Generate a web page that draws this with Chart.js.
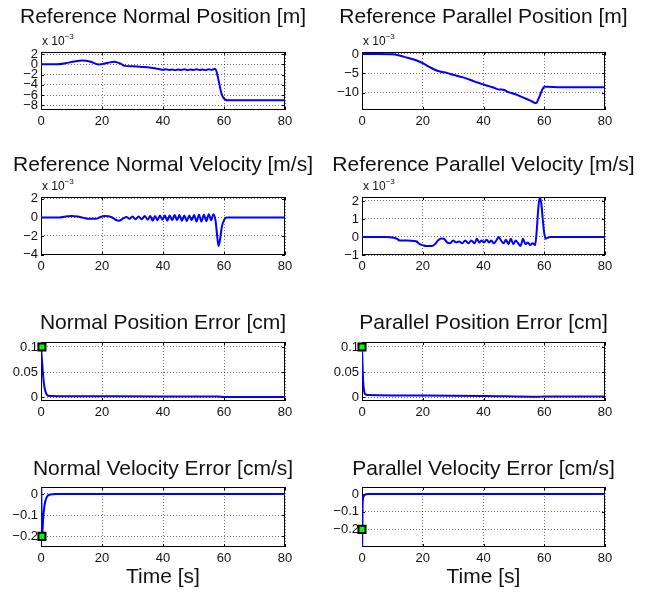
<!DOCTYPE html>
<html>
<head>
<meta charset="utf-8">
<script src="https://cdn.jsdelivr.net/npm/chart.js"></script>
<style>
  body { margin: 0; background: #fff; }
  #fig { position: relative; width: 658px; height: 593px; }
  #fig canvas { position: absolute; }
</style>
</head>
<body>
<div id="fig"></div>
<script>
// values (positions/velocities of the reference are x 1e-3)
const tNormPos = [0, 5, 8, 11, 13.5, 16, 19, 22, 24, 26, 27.5, 30, 33, 36, 38, 39, 40, 41, 42, 43, 44, 45, 46, 47, 48, 49, 50, 51, 52, 53, 54, 55, 56, 57, 57.5, 58, 58.5, 59, 59.5, 60, 60.5, 61, 70, 80];
const normPos = [0, 0, 0.2, 0.55, 0.72, 0.55, -0.05, 0.3, 0.5, 0.15, -0.3, -0.4, -0.5, -0.65, -0.85, -0.95, -1.05, -0.95, -1.1, -1.0, -1.15, -1.0, -1.1, -0.95, -1.15, -1.0, -1.1, -0.95, -1.1, -1.0, -1.15, -0.95, -1.1, -0.85, -1.3, -2.5, -3.9, -5.3, -6.2, -6.7, -6.9, -7.0, -7.0, -7.0];

const tParPos = [0, 5, 10, 12, 15, 18, 20, 22, 24, 25, 26, 28, 30, 33, 36, 38, 40, 42, 44, 45, 46, 47, 48, 50, 52, 54, 56, 57, 57.5, 58, 58.5, 59, 59.5, 60, 61, 65, 80];
const parPos = [0, 0, -0.1, -0.35, -1.0, -1.7, -2.4, -3.3, -4.1, -4.4, -4.6, -4.9, -5.4, -6.0, -6.8, -7.4, -7.9, -8.4, -8.9, -9.2, -9.2, -9.4, -9.8, -10.3, -10.9, -11.6, -12.3, -12.7, -12.6, -11.8, -10.9, -9.9, -9.0, -8.5, -8.5, -8.6, -8.6];

const tNormVel = [0, 6, 8, 10, 12, 14, 16, 18, 19.5, 21, 23, 24.5, 25.5, 27, 28, 29, 30, 31, 32, 33, 34, 35, 35.8, 36.6, 37.4, 38.2, 39, 39.8, 40.6, 41.4, 42.2, 43, 43.8, 44.6, 45.4, 46.2, 47, 47.8, 48.6, 49.4, 50.2, 51, 51.8, 52.6, 53.4, 54.2, 55, 55.8, 56.5, 57.2, 57.7, 58.2, 58.7, 59.3, 60, 60.8, 62, 80];
const normVel = [0, 0, 0.1, 0.15, 0.1, -0.05, -0.15, -0.15, 0.05, 0.15, 0.05, -0.25, -0.35, -0.1, 0.05, -0.15, 0.1, -0.2, 0.1, -0.2, 0.15, -0.25, 0.15, -0.35, 0.15, -0.3, 0.2, -0.25, 0.2, -0.35, 0.2, -0.3, 0.25, -0.3, 0.25, -0.35, 0.2, -0.4, 0.2, -0.3, 0.25, -0.45, 0.3, -0.45, 0.3, -0.4, 0.35, -0.3, 0.35, -0.3, -1.8, -3.1, -2.4, -1.0, -0.3, 0, 0, 0];

const tParVel = [0, 8, 10, 11.5, 12.5, 15, 17, 18, 19, 20, 21, 23, 24, 25, 26, 27, 28, 29, 30, 31, 32, 33, 34, 35, 36, 37, 37.8, 38.6, 39.4, 40.2, 41, 41.8, 42.6, 43.4, 44.2, 45, 45.8, 46.6, 47.4, 48.2, 49, 49.8, 50.6, 51.4, 52.2, 53, 53.8, 54.6, 55.4, 56.2, 57, 57.5, 58, 58.5, 59, 59.5, 60, 60.5, 61, 62, 80];
const parVel = [0, 0, -0.03, -0.1, -0.2, -0.2, -0.22, -0.25, -0.4, -0.45, -0.5, -0.5, -0.4, -0.2, -0.08, -0.1, -0.3, -0.35, -0.2, -0.3, -0.25, -0.35, -0.2, -0.35, -0.2, -0.35, -0.1, -0.3, -0.2, -0.3, -0.15, -0.3, -0.2, -0.35, -0.2, 0.0, -0.2, -0.35, -0.15, -0.4, -0.1, -0.4, -0.2, -0.35, -0.5, -0.1, -0.4, -0.3, -0.45, -0.35, -0.45, 0.3, 1.5, 2.2, 1.9, 1.0, 0.2, -0.1, -0.05, 0, 0];

const tNormPosErr = [0, 0.3, 0.6, 1, 1.5, 2, 3, 10, 40, 58, 60, 80];
const normPosErr = [0.1, 0.075, 0.05, 0.025, 0.01, 0.004, 0.002, 0.0015, 0.001, 0.001, 0.0, 0.0];

const tParPosErr = [0, 0.2, 0.4, 0.7, 1, 2, 20, 40, 58, 60, 80];
const parPosErr = [0.1, 0.06, 0.03, 0.012, 0.006, 0.004, 0.003, 0.002, 0.0005, 0.001, 0.001];

const tNormVelErr = [0, 0.35, 0.7, 1.0, 1.4, 2, 3, 5, 80];
const normVelErr = [0.1, -0.2, -0.12, -0.07, -0.035, -0.012, -0.003, 0, 0];

const tParVelErr = [0, 0.2, 0.5, 1, 2, 80];
const parVelErr = [-0.4, -0.06, -0.015, -0.003, 0, 0];

// initial-value markers [t, value]
const normPosErrMark = [0.3, 0.1];
const parPosErrMark = [0, 0.1];
const normVelErrMark = [0.3, -0.2];
const parVelErrMark = [0, -0.2];

// tick labels
const xTicks = [0, 20, 40, 60, 80];
const normPosTicks = [-8, -6, -4, -2, 0, 2];
const parPosTicks = [-10, -5, 0];
const normVelTicks = [-4, -2, 0, 2];
const parVelTicks = [-1, 0, 1, 2];
const posErrTicks = [0, 0.05, 0.1];
const velErrTicks = [-0.2, -0.1, 0];

const FONT = '"Liberation Sans", Arial, Helvetica, sans-serif';

// subplot grid (pixels on the page)
const cols = [
  { x: 0, w: 322, left: 41, right: 285 },
  { x: 322, w: 336, left: 362, right: 605 }
];
const rows = [
  { y: 0, h: 145, top: 52, bottom: 110, titleBase: 23 },
  { y: 145, h: 145, top: 197, bottom: 255, titleBase: 171 },
  { y: 290, h: 150, top: 342, bottom: 401, titleBase: 329 },
  { y: 440, h: 153, top: 487, bottom: 547, titleBase: 475 }
];

const panels = [
  { row: 0, col: 0, title: 'Reference Normal Position [m]', t: tNormPos, v: normPos, yTicks: normPosTicks, yMin: -8.9, yMax: 2.4, expo: true },
  { row: 0, col: 1, title: 'Reference Parallel Position [m]', t: tParPos, v: parPos, yTicks: parPosTicks, yMin: -14.5, yMax: 0.5, expo: true },
  { row: 1, col: 0, title: 'Reference Normal Velocity [m/s]', t: tNormVel, v: normVel, yTicks: normVelTicks, yMin: -4.05, yMax: 2.2, expo: true },
  { row: 1, col: 1, title: 'Reference Parallel Velocity [m/s]', t: tParVel, v: parVel, yTicks: parVelTicks, yMin: -1, yMax: 2.22, expo: true },
  { row: 2, col: 0, title: 'Normal Position Error [cm]', t: tNormPosErr, v: normPosErr, yTicks: posErrTicks, yMin: -0.008, yMax: 0.11, mark: normPosErrMark },
  { row: 2, col: 1, title: 'Parallel Position Error [cm]', t: tParPosErr, v: parPosErr, yTicks: posErrTicks, yMin: -0.008, yMax: 0.11, mark: parPosErrMark },
  { row: 3, col: 0, title: 'Normal Velocity Error [cm/s]', t: tNormVelErr, v: normVelErr, yTicks: velErrTicks, yMin: -0.25, yMax: 0.033, mark: normVelErrMark, xlabel: 'Time [s]' },
  { row: 3, col: 1, title: 'Parallel Velocity Error [cm/s]', t: tParVelErr, v: parVelErr, yTicks: velErrTicks, yMin: -0.3, yMax: 0.04, mark: parVelErrMark, xlabel: 'Time [s]' }
];

const fmt = v => String(v).replace('-', '\u2212');

// matlab style box, inner ticks, title, exponent and x label
const frame = {
  id: 'frame',
  beforeDatasetsDraw(chart, args, o) {
    const { ctx, chartArea: a, scales } = chart;
    ctx.save();
    ctx.strokeStyle = '#000';
    ctx.lineWidth = 1;
    ctx.beginPath();
    scales.x.ticks.forEach(tk => {
      const px = Math.round(scales.x.getPixelForValue(tk.value)) + 0.5;
      ctx.moveTo(px, a.bottom); ctx.lineTo(px, a.bottom - 3);
      ctx.moveTo(px, a.top); ctx.lineTo(px, a.top + 3);
    });
    scales.y.ticks.forEach(tk => {
      const py = Math.round(scales.y.getPixelForValue(tk.value)) + 0.5;
      ctx.moveTo(a.left, py); ctx.lineTo(a.left + 3, py);
      ctx.moveTo(a.right, py); ctx.lineTo(a.right - 3, py);
    });
    ctx.stroke();
    ctx.strokeRect(a.left + 0.5, a.top + 0.5, a.width - 1, a.height - 1);
    ctx.restore();
  },
  afterDraw(chart, args, o) {
    const { ctx, chartArea: a } = chart;
    const cx = (a.left + a.right) / 2;
    ctx.save();
    ctx.fillStyle = '#111';
    ctx.textAlign = 'center';
    ctx.textBaseline = 'alphabetic';
    ctx.font = '21px ' + FONT;
    ctx.fillText(o.title, cx, o.titleY);
    if (o.xlabel) {
      ctx.fillText(o.xlabel, cx, o.xlabelY);
    }
    if (o.expo) {
      ctx.textAlign = 'left';
      ctx.font = '12px ' + FONT;
      const base = 'x 10';
      ctx.fillText(base, a.left + 1, a.top - 7);
      const w = ctx.measureText(base).width;
      ctx.font = '8px ' + FONT;
      ctx.fillText('\u22123', a.left + 1 + w, a.top - 13);
    }
    ctx.restore();
  }
};

const fig = document.getElementById('fig');
const X_AXIS_H = 25;

panels.forEach(p => {
  const c = cols[p.col], r = rows[p.row];
  const cv = document.createElement('canvas');
  cv.width = c.w;
  cv.height = r.h;
  cv.style.width = c.w + 'px';
  cv.style.height = r.h + 'px';
  cv.style.left = c.x + 'px';
  cv.style.top = r.y + 'px';
  fig.appendChild(cv);

  const datasets = [];
  if (p.mark) {
    datasets.push({
      data: [{ x: p.mark[0], y: p.mark[1] }],
      showLine: false,
      pointStyle: 'rect',
      pointRadius: 5,
      pointBackgroundColor: '#00ff00',
      pointBorderColor: '#000',
      pointBorderWidth: 2,
      clip: false
    });
  }
  datasets.push({
    data: p.t.map((x, i) => ({ x: x, y: p.v[i] })),
    borderColor: '#0000ff',
    borderWidth: 2,
    pointRadius: 0,
    fill: false,
    cubicInterpolationMode: 'monotone'
  });

  const gridOpts = { color: 'rgba(0,0,0,0.55)', lineWidth: 1, drawTicks: false };
  const tickFont = { family: FONT, size: 13 };

  new Chart(cv, {
    type: 'line',
    data: { datasets },
    options: {
      responsive: false,
      animation: false,
      events: [],
      layout: {
        padding: {
          left: 0,
          right: c.x + c.w - c.right,
          top: r.top - r.y,
          bottom: r.h - (r.bottom - r.y) - X_AXIS_H
        }
      },
      plugins: {
        legend: { display: false },
        tooltip: { enabled: false },
        frame: {
          title: p.title,
          titleY: r.titleBase - r.y,
          expo: !!p.expo,
          xlabel: p.xlabel,
          xlabelY: 583 - r.y
        }
      },
      scales: {
        x: {
          type: 'linear',
          min: 0,
          max: 80,
          afterBuildTicks: ax => { ax.ticks = xTicks.map(v => ({ value: v })); },
          afterFit: ax => { ax.height = X_AXIS_H; },
          grid: gridOpts,
          border: { display: false, dash: [1, 2] },
          ticks: { font: tickFont, color: '#111', padding: 4, maxRotation: 0, autoSkip: false, callback: fmt }
        },
        y: {
          type: 'linear',
          min: p.yMin,
          max: p.yMax,
          afterBuildTicks: ax => { ax.ticks = p.yTicks.map(v => ({ value: v })); },
          afterFit: ax => { ax.width = c.left - c.x; },
          grid: gridOpts,
          border: { display: false, dash: [1, 2] },
          ticks: { font: tickFont, color: '#111', padding: 3, autoSkip: false, callback: fmt }
        }
      }
    },
    plugins: [frame]
  });
});
</script>
</body>
</html>
